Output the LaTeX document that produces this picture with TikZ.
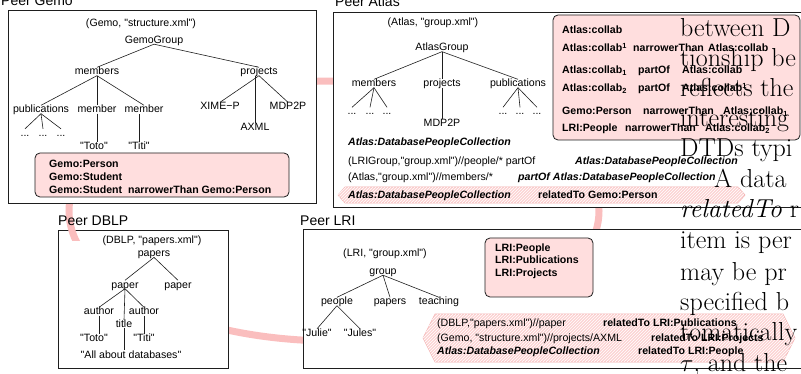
\documentclass[tikz,border=0pt]{standalone}
\usepackage{fontspec}
\newfontfamily\peerfont{Liberation Sans}
\usepackage{tikz}
\usetikzlibrary{patterns}
\definecolor{ink}{RGB}{30,30,30}
\definecolor{blush}{RGB}{255,222,222}
\definecolor{ringpink}{RGB}{250,190,190}
\definecolor{hatchpink}{RGB}{252,212,212}
\definecolor{hatchedge}{RGB}{244,178,178}

\begin{document}
\begin{tikzpicture}[
  x=1pt, y=-1pt,
  peer/.style={draw=ink, line width=0.8pt, fill=white},
  peerlbl/.style={anchor=base west, inner sep=0pt,
                  font=\peerfont\fontsize{14}{16}\selectfont},
  elt/.style={anchor=base, inner sep=0pt, text height=7.5pt, text depth=0.5pt,
              font=\peerfont\fontsize{10.6}{12}\selectfont},
  txtrow/.style={anchor=base west, inner sep=0pt,
                 font=\peerfont\fontsize{10.6}{12}\selectfont},
  boldrow/.style={txtrow, font=\peerfont\bfseries\fontsize{10.6}{12}\selectfont},
  emrow/.style={txtrow, font=\peerfont\bfseries\itshape\fontsize{10.6}{12}\selectfont},
  treeline/.style={draw=ink, line width=0.6pt},
  ontobox/.style={draw=ink, line width=0.8pt, fill=blush, rounded corners=5pt},
  mapbox/.style={draw=hatchedge, line width=0.6pt, fill=hatchpink,
                 postaction={pattern=north east lines, pattern color=white}},
  ringline/.style={draw=ringpink, line width=7pt},
  bodytxt/.style={anchor=base west, inner sep=0pt, font=\fontsize{26}{30}\selectfont}]
  \useasboundingbox (0,0) rectangle (801,374);
  \clip (0,0) rectangle (801,374);
  % pink ring linking the peers
  \draw[ringline] (334,211) ellipse [x radius=265pt, y radius=130pt];
  % peers
  \draw[peer] (8,10) rectangle (316,203);
  \draw[peer] (333,12) rectangle (830,207);
  \draw[peer] (58,230) rectangle (228,368);
  \draw[peer] (303,229) rectangle (830,368);
  \begin{scope}
    \clip (59,231) rectangle (100,241);
    \draw[ringline] (334,211) ellipse [x radius=265pt, y radius=130pt];
  \end{scope}
  \node[peerlbl] (gemolbl) at (1,6) {Peer Gemo};
  \node[peerlbl] (atlaslbl) at (335,7) {Peer Atlas};
  \node[peerlbl] (dblplbl) at (58,226) {Peer DBLP};
  \node[peerlbl] (lrilbl) at (300,226) {Peer LRI};
  % ontology boxes and mappings
  \draw[ontobox] (35,153) rectangle (289,197);
  \draw[ontobox] (553,15) rectangle (800,140);
  \draw[ontobox] (485,238) rectangle (593,297);
  \path[mapbox] (338,195) -- (345,187) -- (738,187) -- (745,195) -- (738,203) -- (345,203) -- cycle;
  \path[mapbox] (423,338) -- (435,314) -- (783,314) -- (795,338) -- (783,362) -- (435,362) -- cycle;

  % Peer Gemo
  \node[elt] (gemodoc) at (141,26.5) {(Gemo, "structure.xml")};
  \node[elt] (gemoroot) at (154,43.5) {GemoGroup};
  \node[elt] (gemomembers) at (97,75) {members};
  \node[elt] (gemoprojects) at (259,75) {projects};
  \node[elt] (gemopubs) at (41,113) {publications};
  \node[elt] (gemomember1) at (97,113) {member};
  \node[elt] (gemomember2) at (144,113) {member};
  \node[elt] (gemoxime) at (220,110) {XIME−P};
  \node[elt] (gemomdp) at (288,110) {MDP2P};
  \node[elt] (gemoaxml) at (255,131) {AXML};
  \node[elt] (gemodots1) at (25,136.5) {...};
  \node[elt] (gemodots2) at (43,136.5) {...};
  \node[elt] (gemodots3) at (61,136.5) {...};
  \node[elt] (gemototo) at (94,150) {"Toto"};
  \node[elt] (gemotiti) at (139,150) {"Titi"};
  \draw[treeline] (gemoroot.south) -- (gemomembers.north);
  \draw[treeline] (gemoroot.south) -- (gemoprojects.north);
  \draw[treeline] (gemomembers.south) -- (gemopubs.north);
  \draw[treeline] (gemomembers.south) -- (gemomember1.north);
  \draw[treeline] (gemomembers.south) -- (gemomember2.north);
  \draw[treeline] (gemoprojects.south) -- (gemoxime.north);
  \draw[treeline] (gemoprojects.south) -- (gemomdp.north);
  \draw[treeline] (gemoaxml.north) -- (gemoaxml.north |- gemoprojects.south);
  \draw[treeline] (gemopubs.south) -- (gemodots1.north);
  \draw[treeline] (gemopubs.south) -- (gemodots2.north);
  \draw[treeline] (gemopubs.south) -- (gemodots3.north);
  \draw[treeline] (gemomember1.south) -- (gemomember1.south |- gemototo.north);
  \draw[treeline] (gemotiti.north) -- (gemotiti.north |- gemomember2.south);
  \node[boldrow] (gemoc1) at (49,168) {Gemo:Person};
  \node[boldrow] (gemoc2) at (49,181) {Gemo:Student};
  \node[boldrow] (gemoc3) at (49,194) {Gemo:Student\ \ narrowerThan Gemo:Person};

  % Peer Atlas
  \node[elt] (atlasdoc) at (433,26) {(Atlas, "group.xml")};
  \node[elt] (atlasroot) at (442,51) {AtlasGroup};
  \node[elt] (atlasmembers) at (374,87) {members};
  \node[elt] (atlasprojects) at (442,87) {projects};
  \node[elt] (atlaspubs) at (518,87) {publications};
  \node[elt] (atlasdots1) at (352,115) {...};
  \node[elt] (atlasdots2) at (370,115) {...};
  \node[elt] (atlasdots3) at (387,115) {...};
  \node[elt] (atlasdots4) at (503,115) {...};
  \node[elt] (atlasdots5) at (520,115) {...};
  \node[elt] (atlasdots6) at (537,115) {...};
  \node[elt] (atlasmdp) at (442,127) {MDP2P};
  \draw[treeline] (atlasroot.south) -- (atlasmembers.north);
  \draw[treeline] (atlasroot.south) -- (atlasprojects.north);
  \draw[treeline] (atlasroot.south) -- (atlaspubs.north);
  \draw[treeline] (atlasmembers.south) -- (atlasdots1.north);
  \draw[treeline] (atlasmembers.south) -- (atlasdots2.north);
  \draw[treeline] (atlasmembers.south) -- (atlasdots3.north);
  \draw[treeline] (atlaspubs.south) -- (atlasdots4.north);
  \draw[treeline] (atlaspubs.south) -- (atlasdots5.north);
  \draw[treeline] (atlaspubs.south) -- (atlasdots6.north);
  \draw[treeline] (atlasprojects.south) -- (atlasmdp.north);
  \node[emrow] (atlasdpc) at (348,146) {Atlas:DatabasePeopleCollection};
  \node[txtrow] (atlasm1a) at (348,165) {(LRIGroup,"group.xml")//people/* partOf};
  \node[emrow] (atlasm1b) at (575,165) {Atlas:DatabasePeopleCollection};
  \node[txtrow] (atlasm2a) at (348,181) {(Atlas,"group.xml")//members/*};
  \node[emrow] (atlasm2b) at (518,181) {partOf Atlas:DatabasePeopleCollection};
  \node[emrow] (atlasm3a) at (348,199) {Atlas:DatabasePeopleCollection};
  \node[boldrow] (atlasm3b) at (538,199) {relatedTo Gemo:Person};
  \node[boldrow] (collab1a) at (562,34) {Atlas:collab};
  \node[boldrow] (collab2a) at (562,52) {Atlas:collab\textsuperscript{1}};
  \node[boldrow] (collab2b) at (633,52) {narrowerThan};
  \node[boldrow] (collab2c) at (708,52) {Atlas:collab};
  \node[boldrow] (collab3a) at (562,74) {Atlas:collab\textsubscript{1}};
  \node[boldrow] (collab3b) at (638,74) {partOf};
  \node[boldrow] (collab3c) at (682,74) {Atlas:collab};
  \node[boldrow] (collab4a) at (562,92) {Atlas:collab\textsubscript{2}};
  \node[boldrow] (collab4b) at (638,92) {partOf};
  \node[boldrow] (collab4c) at (682,92) {Atlas:collab\textsuperscript{1}};
  \node[boldrow] (collab5a) at (562,115) {Gemo:Person};
  \node[boldrow] (collab5b) at (643,115) {narrowerThan};
  \node[boldrow] (collab5c) at (723,115) {Atlas:collab\textsubscript{1}};
  \node[boldrow] (collab6a) at (562,132) {LRI:People};
  \node[boldrow] (collab6b) at (625,132) {narrowerThan};
  \node[boldrow] (collab6c) at (705,132) {Atlas:collab\textsubscript{2}};

  % Peer DBLP
  \node[elt] (dblpdoc) at (152,244) {(DBLP, "papers.xml")};
  \node[elt] (dblproot) at (154,256.7) {papers};
  \node[elt] (dblppaper1) at (125,288) {paper};
  \node[elt] (dblppaper2) at (178,288) {paper};
  \node[elt] (dblpauthor1) at (99,315) {author};
  \node[elt] (dblpauthor2) at (144,315) {author};
  \node[elt] (dblptitle) at (124,327.7) {title};
  \node[elt] (dblptoto) at (94,341.5) {"Toto"};
  \node[elt] (dblptiti) at (144,341.5) {"Titi"};
  \node[elt] (dblpall) at (131,358) {"All about databases"};
  \draw[treeline] (dblproot.south) -- (dblppaper1.north);
  \draw[treeline] (dblproot.south) -- (dblppaper2.north);
  \draw[treeline] (dblppaper1.south) -- (dblpauthor1.north);
  \draw[treeline] (dblppaper1.south) -- (dblpauthor2.north);
  \draw[treeline] (dblppaper1.south) -- (dblptitle.north);
  \draw[treeline] (dblpauthor1.south) -- (dblpauthor1.south |- dblptoto.north);
  \draw[treeline] (dblpauthor2.south) -- (dblpauthor2.south |- dblptiti.north);
  \draw[treeline] (dblptitle.south) -- (dblptitle.south |- dblpall.north);

  % Peer LRI
  \node[elt] (lridoc) at (385,257) {(LRI, "group.xml")};
  \node[elt] (lriroot) at (383,274.5) {group};
  \node[elt] (lripeople) at (337,305) {people};
  \node[elt] (lripapers) at (390,305) {papers};
  \node[elt] (lriteaching) at (439,305) {teaching};
  \node[elt] (lrijulie) at (317,336.5) {"Julie"};
  \node[elt] (lrijules) at (360,336.5) {"Jules"};
  \draw[treeline] (lriroot.south) -- (lripeople.north);
  \draw[treeline] (lriroot.south) -- (lripapers.north);
  \draw[treeline] (lriroot.south) -- (lriteaching.north);
  \draw[treeline] (lripeople.south) -- (lrijulie.north);
  \draw[treeline] (lripeople.south) -- (lrijules.north);
  \node[boldrow] (lric1) at (495,251.7) {LRI:People};
  \node[boldrow] (lric2) at (495,264) {LRI:Publications};
  \node[boldrow] (lric3) at (495,276.7) {LRI:Projects};
  \node[txtrow] (lrim1a) at (437,326.7) {(DBLP,"papers.xml")//paper};
  \node[boldrow] (lrim1b) at (603,326.7) {relatedTo LRI:Publications};
  \node[txtrow] (lrim2a) at (437,341.7) {(Gemo, "structure.xml")//projects/AXML};
  \node[boldrow] (lrim2b) at (651,341.7) {relatedTo LRI:Projects};
  \node[emrow] (lrim3a) at (437,354) {Atlas:DatabasePeopleCollection};
  \node[boldrow] (lrim3b) at (638,354) {relatedTo LRI:People};

  % running text of the page over the figure
  \node[bodytxt] (body1) at (680,37) {between D};
  \node[bodytxt] (body2) at (680,67) {tionship be};
  \node[bodytxt] (body3) at (680,97) {reflects the};
  \node[bodytxt] (body4) at (680,127) {interesting};
  \node[bodytxt] (body5) at (680,157) {DTDs typi};
  \node[bodytxt] (body6) at (714,188) {A data};
  \node[bodytxt] (body7) at (680,218) {\textit{relatedTo} r};
  \node[bodytxt] (body8) at (680,249) {item is per};
  \node[bodytxt] (body9) at (680,280) {may be pr};
  \node[bodytxt] (body10) at (680,310) {specified b};
  \node[bodytxt] (body11) at (680,341) {tomatically};
  \node[bodytxt] (body12) at (680,371) {$\tau$, and the};
\end{tikzpicture}
\end{document}
